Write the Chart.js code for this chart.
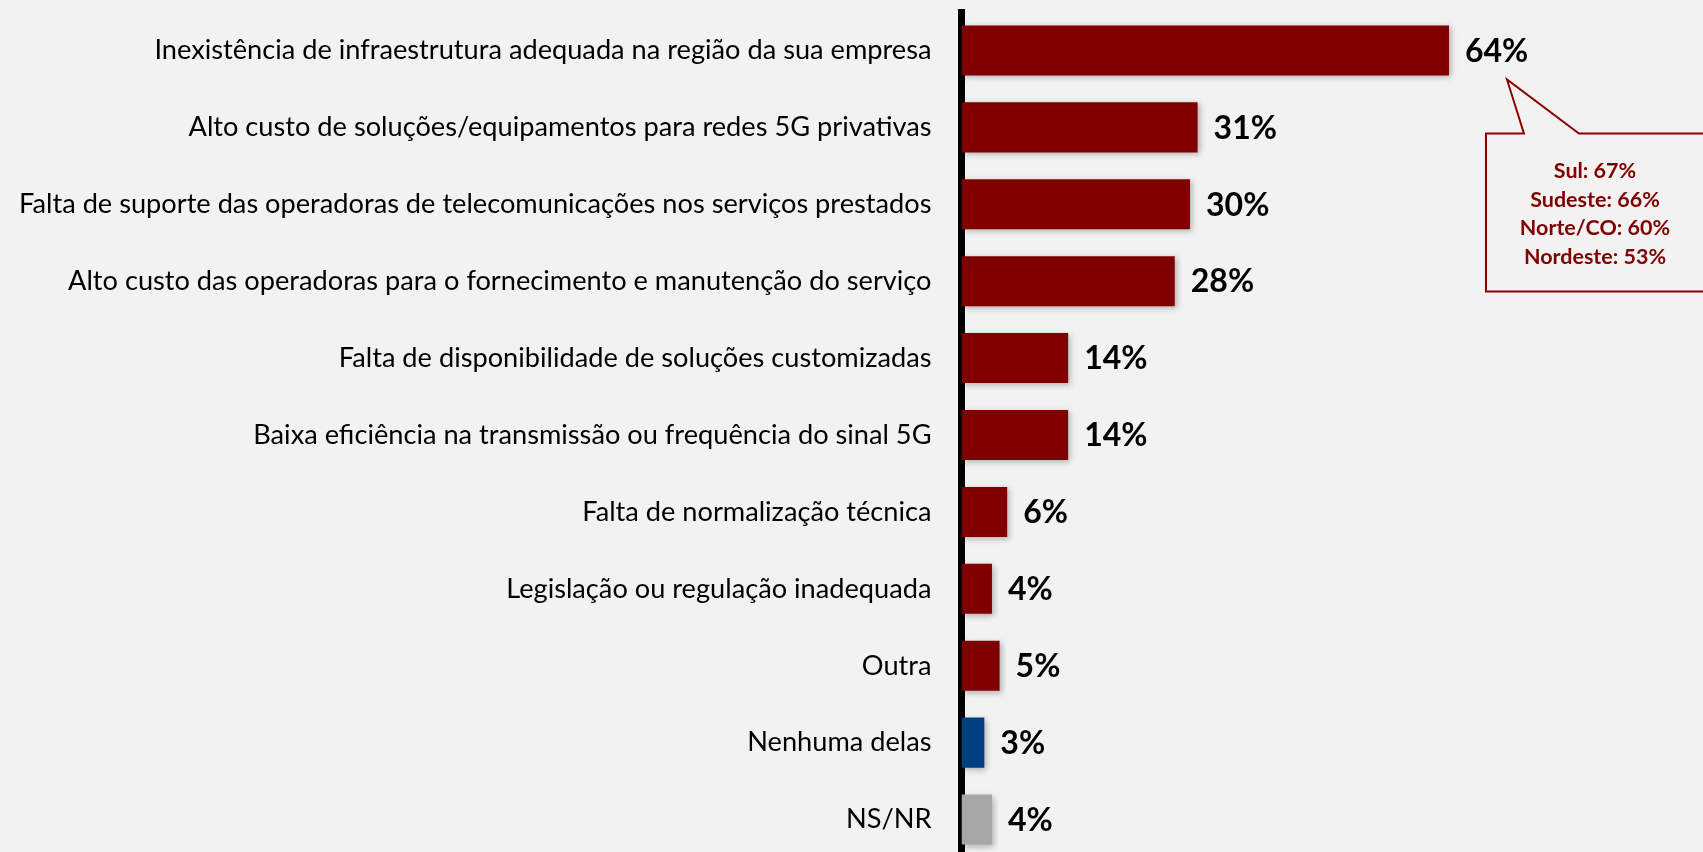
<!DOCTYPE html>
<html>
<head>
<meta charset="utf-8">
<script src="https://cdn.jsdelivr.net/npm/chart.js@4"></script>
<style>
  html, body { margin: 0; padding: 0; background: #F2F2F2; overflow: hidden; }
  #wrap { position: relative; width: 1703px; height: 858px; }
</style>
</head>
<body>
<div id="wrap"><canvas id="c"></canvas></div>
<script>
const categories = [
  'Inexistência de infraestrutura adequada na região da sua empresa',
  'Alto custo de soluções/equipamentos para redes 5G privativas',
  'Falta de suporte das operadoras de telecomunicações nos serviços prestados',
  'Alto custo das operadoras para o fornecimento e manutenção do serviço',
  'Falta de disponibilidade de soluções customizadas',
  'Baixa eficiência na transmissão ou frequência do sinal 5G',
  'Falta de normalização técnica',
  'Legislação ou regulação inadequada',
  'Outra',
  'Nenhuma delas',
  'NS/NR'
];
const values = [64, 31, 30, 28, 14, 14, 6, 4, 5, 3, 4];
const barColors = ['#800000','#800000','#800000','#800000','#800000','#800000','#800000','#800000','#800000','#004080','#A6A6A6'];
const regions = ['Sul', 'Sudeste', 'Norte/CO', 'Nordeste'];
const regionValues = [67, 66, 60, 53];
const X_MAX = 97.35;

const valueLabels = {
  id: 'valueLabels',
  afterDatasetsDraw(chart) {
    const ctx = chart.ctx;
    const meta = chart.getDatasetMeta(0);
    ctx.save();
    ctx.font = 'bold 32px Lato';
    ctx.fillStyle = '#000';
    ctx.textAlign = 'left';
    ctx.textBaseline = 'middle';
    meta.data.forEach((bar, i) => {
      ctx.fillText(values[i] + '%', bar.x + 16, bar.y + 1);
    });
    ctx.restore();
  }
};

const barShadow = {
  id: 'barShadow',
  beforeDatasetDraw(chart) {
    const ctx = chart.ctx;
    ctx.save();
    ctx.shadowColor = 'rgba(0,0,0,0.28)';
    ctx.shadowBlur = 6;
    ctx.shadowOffsetX = 2;
    ctx.shadowOffsetY = 2;
  },
  afterDatasetDraw(chart) {
    chart.ctx.restore();
  }
};

const callout = {
  id: 'callout',
  afterDraw(chart) {
    const ctx = chart.ctx;
    const bar = chart.getDatasetMeta(0).data[0];
    const bx = bar.x, by = bar.y;
    const left = bx + 37, top = by + 83, bottom = by + 241, right = chart.width + 10;
    ctx.save();
    ctx.beginPath();
    ctx.moveTo(left, top);
    ctx.lineTo(bx + 75, top);
    ctx.lineTo(bx + 58, by + 29);
    ctx.lineTo(bx + 130, top);
    ctx.lineTo(right, top);
    ctx.lineTo(right, bottom);
    ctx.lineTo(left, bottom);
    ctx.closePath();
    ctx.fillStyle = '#F2F2F2';
    ctx.fill();
    ctx.lineWidth = 2;
    ctx.strokeStyle = '#8B0000';
    ctx.stroke();
    ctx.font = 'bold 21.5px Lato';
    ctx.fillStyle = '#800000';
    ctx.textAlign = 'center';
    ctx.textBaseline = 'middle';
    regions.forEach((r, i) => {
      ctx.fillText(r + ': ' + regionValues[i] + '%', bx + 146, by + 121 + i * 28.5);
    });
    ctx.restore();
  }
};

new Chart(document.getElementById('c'), {
  type: 'bar',
  data: {
    labels: categories,
    datasets: [{
      data: values,
      backgroundColor: barColors,
      borderWidth: 0,
      categoryPercentage: 1,
      barPercentage: 0.651
    }]
  },
  options: {
    indexAxis: 'y',
    responsive: true,
    maintainAspectRatio: false,
    animation: false,
    layout: { padding: { top: 12, left: 0, right: 0, bottom: 0 } },
    plugins: { legend: { display: false }, tooltip: { enabled: false } },
    scales: {
      x: { display: false, min: 0, max: X_MAX },
      y: {
        z: 1,
        grid: { display: false, drawTicks: false },
        border: { display: true, color: '#000', width: 7 },
        ticks: { color: '#000', font: { family: 'Lato', size: 27.2 }, padding: 30 },
        afterFit(scale) {
          scale.width = 961.5;
          scale.paddingTop = 0;
          scale.paddingBottom = 0;
        }
      }
    }
  },
  plugins: [barShadow, valueLabels, callout]
});
</script>
</body>
</html>
